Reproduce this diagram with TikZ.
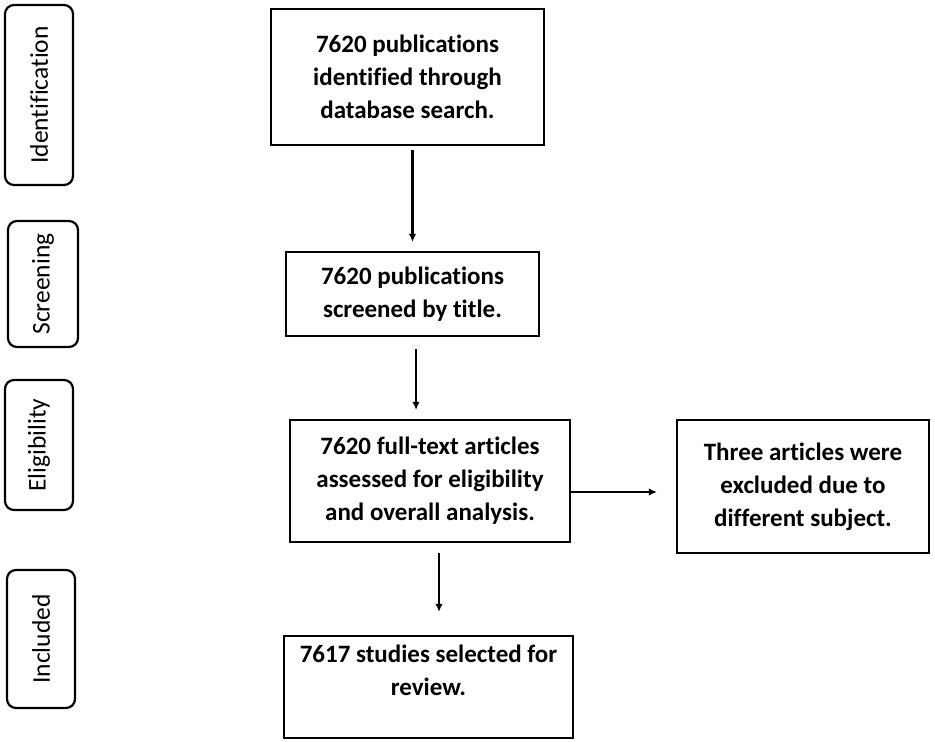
\documentclass[tikz,border=0pt]{standalone}
\usepackage{fontspec}
\setmainfont[Ligatures=NoCommon]{Carlito}
\usetikzlibrary{arrows.meta}
\tikzset{
  stage/.style={draw, line width=2.2pt, align=center, inner sep=2pt,
    font=\bfseries\fontsize{25}{33}\selectfont},
  phase/.style={draw, line width=2.2pt, rounded corners=9pt, rotate=90,
    font=\fontsize{25.5}{30}\selectfont},
  flow/.style={line width=2.2pt, -{Latex[length=8pt,width=7.5pt]}}
}
\begin{document}
\begin{tikzpicture}
[x=1pt,y=-1pt]
\useasboundingbox (0,0) rectangle (935,742);
% phases on the left
\node [phase, minimum width=180, minimum height=68] (p1) at (39,95) {Identification};
\node [phase, minimum width=126, minimum height=70] (p2) at (43,284) {Screening};
\node [phase, minimum width=130, minimum height=68] (p3) at (39,445) {Eligibility};
\node [phase, minimum width=138, minimum height=68] (p4) at (41,639) {Included};
% boxes
\node [stage, minimum width=273, minimum height=136] (b1) at (407.5,77)
  {7620 publications\\identified through\\database search.};
\node [stage, minimum width=253, minimum height=84] (b2) at (412.5,294)
  {7620 publications\\screened by title.};
\node [stage, minimum width=280, minimum height=122] (b3) at (430,481)
  {7620 full-text articles\\assessed for eligibility\\and overall analysis.};
\node [stage, minimum width=252, minimum height=133] (b4) at (803,486.5)
  {Three articles were\\excluded due to\\different subject.};
\node [stage, minimum width=289, minimum height=102] (b5) at (428.5,687)
  {7617 studies selected for\\review.\\~};
% arrows
\draw [flow, shorten <=4pt, shorten >=9pt] (b1.south -| b2.north) -- (b2.north);
\draw [flow, shorten <=12pt, shorten >=9pt] ([xshift=3.5pt]b2.south) -- ([xshift=3.5pt]b2.south |- b3.north);
\draw [flow, shorten <=10pt, shorten >=23pt] ([xshift=9pt]b3.south) -- ([xshift=9pt]b3.south |- b5.north);
\draw [flow, shorten >=19pt] ([yshift=-11pt]b3.east) -- ([yshift=-11pt]b3.east -| b4.west);
\end{tikzpicture}
\end{document}
